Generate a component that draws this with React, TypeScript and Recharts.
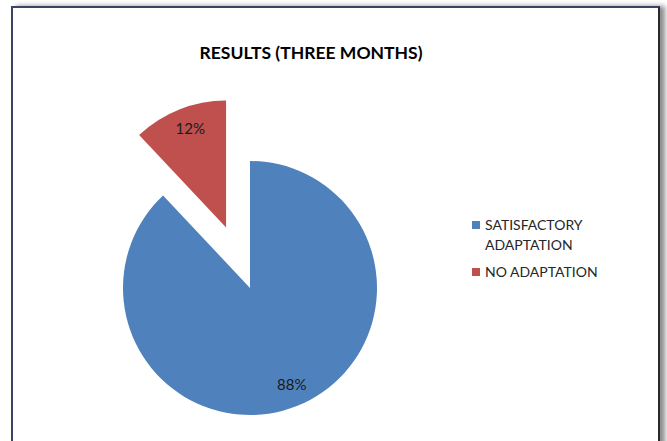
import React from "react";
import { PieChart, Pie, Cell, Legend } from "recharts";

const categories = ["SATISFACTORY ADAPTATION", "NO ADAPTATION"];
const values = [88, 12];
const colors = ["#4F81BD", "#C0504D"];
const legendLines = [["SATISFACTORY", "ADAPTATION"], ["NO ADAPTATION"]];

const W = 667;
const H = 441;
const CX = 250;
const CY = 288;
const R = 127;
const EXPLODE = 65;
const FONT = "Lato, 'Open Sans', sans-serif";

const data = categories.map((name, i) => ({ name, value: values[i] }));
const total = values.reduce((a, b) => a + b, 0);

// mid angle of the pulled-out slice (last one), clockwise from 12 o'clock
const explodedIdx = values.length - 1;
const before = values.slice(0, explodedIdx).reduce((a, b) => a + b, 0);
const midDeg = 90 - (360 * (before + values[explodedIdx] / 2)) / total;
const offX = EXPLODE * Math.cos((midDeg * Math.PI) / 180);
const offY = -EXPLODE * Math.sin((midDeg * Math.PI) / 180);

const RAD = Math.PI / 180;

const makeLabel = (only: number) => (props: any) => {
  const { cx, cy, midAngle, outerRadius, percent, index } = props;
  if (index !== only) return null;
  const r = outerRadius * 0.83;
  const x = cx + r * Math.cos(-midAngle * RAD);
  const y = cy + r * Math.sin(-midAngle * RAD);
  return (
    <text
      x={x + 3}
      y={y - 2}
      textAnchor="middle"
      dominantBaseline="central"
      fill="#1a1a1a"
      style={{ fontSize: 15, fontFamily: FONT }}
    >
      {`${Math.round(percent * 100)}%`}
    </text>
  );
};

const LegendBox = () => (
  <div style={{ fontFamily: FONT, fontSize: 14, color: "#262626", lineHeight: "20px", textAlign: "left" }}>
    {legendLines.map((lines, i) => (
      <div key={categories[i]} style={{ position: "relative", paddingLeft: 13, marginBottom: 7 }}>
        <span
          style={{
            position: "absolute",
            left: 0,
            top: 6,
            width: 8,
            height: 8,
            background: colors[i],
          }}
        />
        {lines.map((l) => (
          <div key={l}>{l}</div>
        ))}
      </div>
    ))}
  </div>
);

export default function App() {
  return (
    <div
      style={{
        position: "absolute",
        left: 0,
        top: 0,
        width: W,
        height: H,
        background: "#fff",
        overflow: "hidden",
      }}
    >
      <div
        style={{
          position: "absolute",
          left: 11,
          top: 6,
          width: 645,
          height: 460,
          borderLeft: "2px solid #3a4563",
          borderTop: "2px solid #3a4563",
          borderRight: "2px solid #2b2b2b",
          boxShadow: "5px 0 5px rgba(0,0,0,0.45)",
          background: "#fff",
        }}
      />
      <div style={{ position: "absolute", left: 0, top: 0 }}>
        <PieChart width={W} height={H} margin={{ top: 0, right: 0, bottom: 0, left: 0 }}>
          <text
            x={311}
            y={52}
            textAnchor="middle"
            dominantBaseline="central"
            fill="#000"
            textLength={223}
            lengthAdjust="spacingAndGlyphs"
            style={{ fontSize: 17.5, fontWeight: 700, fontFamily: FONT }}
          >
            RESULTS (THREE MONTHS)
          </text>
          <Pie
            data={data}
            dataKey="value"
            nameKey="name"
            cx={CX}
            cy={CY}
            outerRadius={R}
            startAngle={90}
            endAngle={-270}
            stroke="none"
            label={makeLabel(0)}
            labelLine={false}
            isAnimationActive={false}
          >
            {data.map((d, i) => (
              <Cell key={d.name} fill={i === explodedIdx ? "none" : colors[i]} />
            ))}
          </Pie>
          <Pie
            data={data}
            dataKey="value"
            nameKey="name"
            cx={CX + offX}
            cy={CY + offY}
            outerRadius={R}
            startAngle={90}
            endAngle={-270}
            stroke="none"
            label={makeLabel(explodedIdx)}
            labelLine={false}
            legendType="none"
            isAnimationActive={false}
          >
            {data.map((d, i) => (
              <Cell key={d.name} fill={i === explodedIdx ? colors[i] : "none"} />
            ))}
          </Pie>
          <Legend
            layout="vertical"
            align="right"
            verticalAlign="top"
            content={<LegendBox />}
            wrapperStyle={{ left: 472, top: 215, right: "auto", width: 170 }}
          />
        </PieChart>
      </div>
    </div>
  );
}
